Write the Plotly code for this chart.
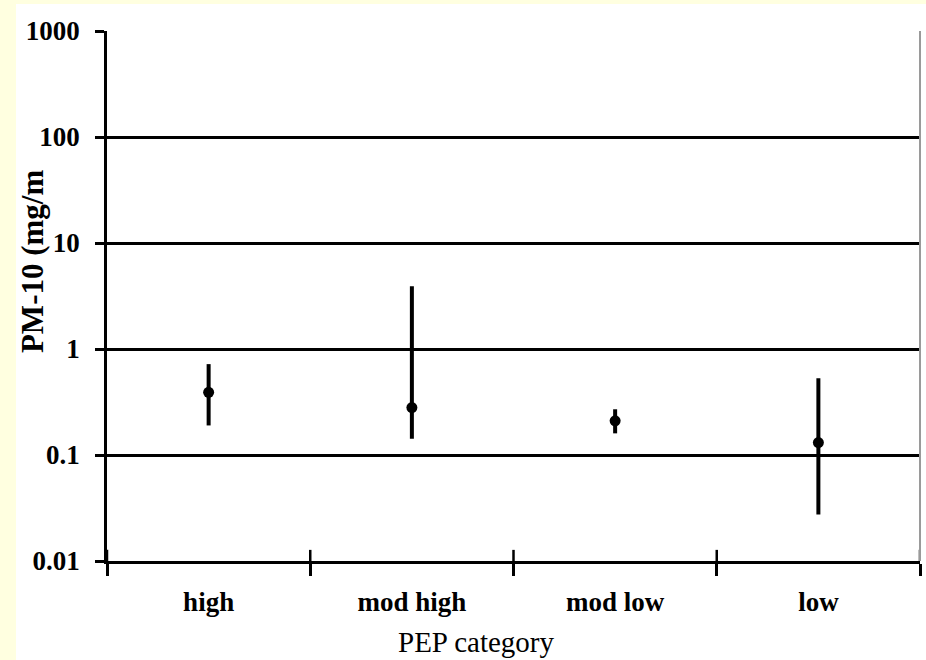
import plotly.graph_objects as go

# PEP category vs PM-10 concentration (median with range)
categories = ["high", "mod high", "mod low", "low"]
pm10_mid = [0.39, 0.28, 0.21, 0.131]
pm10_low = [0.19, 0.142, 0.16, 0.0275]
pm10_high = [0.72, 3.9, 0.27, 0.53]

y_tickvals = [0.01, 0.1, 1, 10, 100, 1000]
y_ticktext = ["0.01", "0.1", "1", "10", "100", "1000"]

err_plus = [h - m for h, m in zip(pm10_high, pm10_mid)]
err_minus = [m - l for m, l in zip(pm10_mid, pm10_low)]

serif = "Liberation Serif, Times New Roman, serif"
strip = "#FFFFE0"

fig = go.Figure()
fig.add_trace(go.Scatter(
    x=categories,
    y=pm10_mid,
    mode="markers",
    marker=dict(color="black", size=11, symbol="circle"),
    error_y=dict(type="data", symmetric=False, array=err_plus,
                 arrayminus=err_minus, color="black", thickness=4, width=0),
    showlegend=False,
    cliponaxis=False,
))

# crossing tick marks on the category boundaries (upper half, inside the plot)
n = len(categories)
shapes = []
for i in range(n + 1):
    shapes.append(dict(type="line", xref="x", yref="paper",
                       x0=i - 0.5, x1=i - 0.5, y0=0, y1=0.021,
                       line=dict(color="black", width=2.5), layer="above"))

# pale yellow strips along the left and top edge of the page
shapes.append(dict(type="rect", xref="paper", yref="paper",
                   x0=-0.2, x1=-0.1119, y0=-0.3, y1=1.2,
                   fillcolor=strip, line=dict(width=0), layer="below"))
shapes.append(dict(type="rect", xref="paper", yref="paper",
                   x0=-0.2, x1=1.2, y0=1.0509, y1=1.2,
                   fillcolor=strip, line=dict(width=0), layer="below"))
# thin grey frame on the right side
shapes.append(dict(type="line", xref="paper", yref="paper",
                   x0=1, x1=1, y0=0, y1=1,
                   line=dict(color="#9a9a9a", width=2), layer="above"))

fig.update_layout(
    width=926, height=660,
    margin=dict(l=107, r=6, t=31, b=99),
    paper_bgcolor="white",
    plot_bgcolor="white",
    shapes=shapes,
    xaxis=dict(
        type="category",
        range=[-0.5, n - 0.5],
        showgrid=False,
        showline=True, linecolor="black", linewidth=2.5,
        ticks="outside", tickson="boundaries", ticklen=12,
        tickwidth=2.5, tickcolor="black",
        tickfont=dict(family=serif, size=27, color="black", weight="bold"),
        ticklabelstandoff=15,
        zeroline=False,
    ),
    yaxis=dict(
        type="log",
        range=[-2, 3],
        tickvals=y_tickvals, ticktext=y_ticktext,
        showgrid=True, gridcolor="black", gridwidth=2.5,
        showline=True, linecolor="black", linewidth=2.5,
        ticks="outside", ticklen=9, tickwidth=2.5, tickcolor="black",
        tickfont=dict(family=serif, size=27, color="black", weight="bold"),
        ticklabelstandoff=10,
        zeroline=False,
    ),
    annotations=[
        dict(text="PM-10 (mg/m", xref="paper", yref="paper",
             x=-0.0922, y=0.566, xanchor="center", yanchor="middle",
             textangle=-90, showarrow=False,
             font=dict(family=serif, size=31, color="black", weight="bold")),
        dict(text="PEP category", xref="paper", yref="paper",
             x=0.454, y=-0.153, xanchor="center", yanchor="middle",
             showarrow=False,
             font=dict(family=serif, size=29, color="black")),
    ],
)

fig.write_html("out.html")
